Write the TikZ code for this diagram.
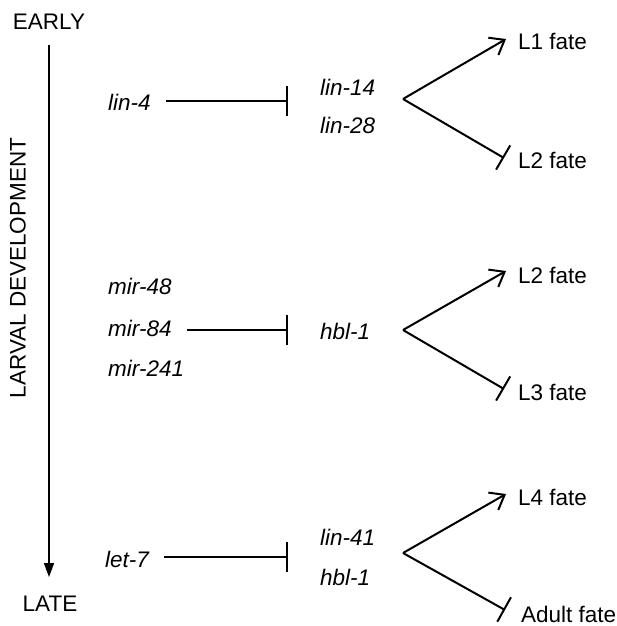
\documentclass[tikz,border=0pt]{standalone}
\usepackage{fontspec}
\setmainfont{Liberation Sans}
\usetikzlibrary{arrows.meta}
\begin{document}
\begin{tikzpicture}[x=1pt,y=-1pt,
  lbl/.style={font=\fontsize{22.5}{26}\selectfont, inner sep=0pt},
  gene/.style={inner sep=0pt, font=\fontsize{22.5}{26}\selectfont\itshape, anchor=west},
  fate/.style={lbl, anchor=west},
  inhib/.style={line width=1.6pt, shorten <=15pt, -{Bar[width=30pt,line width=1.6pt]}},
  act/.style={line width=2pt, -{Straight Barb[length=13pt,width=20pt,line width=2pt]}},
  rep/.style={line width=2pt, -{Bar[width=28pt,line width=2pt]}},
  timeline/.style={line width=1.5pt, -{Triangle[width=10pt,length=14pt]}}
]
\useasboundingbox (0,0) rectangle (617,626);

% time axis
\node[lbl] (early) at (49,22) {EARLY};
\node[lbl] (late) at (50,604) {LATE};
\draw[timeline, shorten <=15pt, shorten >=19pt] (early.south) -- (early.south |- late.north);
\node[lbl, rotate=90] (larval) at (18,268) {LARVAL DEVELOPMENT};

% row 1
\node[gene] (lin4) at (108,102) {lin-4};
\coordinate (b1) at (288,101);
\draw[inhib] (lin4.east |- b1) -- (b1);
\node[gene] (lin14) at (320,87) {lin-14};
\node[gene] (lin28) at (320,125) {lin-28};
\coordinate (v1) at (403,99);
\coordinate (u1) at (506,39);
\coordinate (d1) at (504,158);
\draw[act] (v1) -- (u1);
\draw[rep] (v1) -- (d1);
\node[fate] (f1a) at (518,41) {L1 fate};
\node[fate] (f1b) at (518,160) {L2 fate};

% row 2
\node[gene] (mir48) at (108,286) {mir-48};
\node[gene] (mir84) at (108,328) {mir-84};
\node[gene] (mir241) at (108,368) {mir-241};
\coordinate (b2) at (288,330);
\draw[inhib] (mir84.east |- b2) -- (b2);
\node[gene] (hbl1a) at (320,331) {hbl-1};
\coordinate (v2) at (403,330);
\coordinate (u2) at (506,271);
\coordinate (d2) at (504,389);
\draw[act] (v2) -- (u2);
\draw[rep] (v2) -- (d2);
\node[fate] (f2a) at (518,275) {L2 fate};
\node[fate] (f2b) at (518,392) {L3 fate};

% row 3
\node[gene] (let7) at (105,559) {let-7};
\coordinate (b3) at (288,557);
\draw[inhib] (let7.east |- b3) -- (b3);
\node[gene] (lin41) at (320,537) {lin-41};
\node[gene] (hbl1b) at (320,577) {hbl-1};
\coordinate (v3) at (403,553);
\coordinate (u3) at (506,494);
\coordinate (d3) at (505,610);
\draw[act] (v3) -- (u3);
\draw[rep] (v3) -- (d3);
\node[fate] (f3a) at (518,497) {L4 fate};
\node[fate] (f3b) at (521,614) {Adult fate};
\end{tikzpicture}
\end{document}
